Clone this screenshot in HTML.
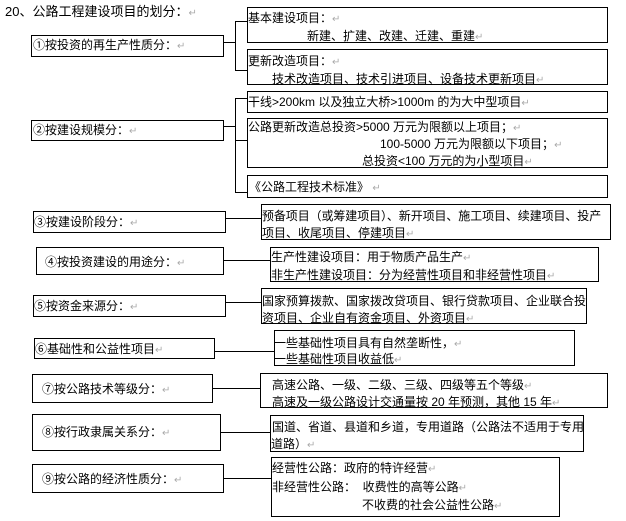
<!DOCTYPE html>
<html><head><meta charset="utf-8">
<style>
html,body{margin:0;padding:0;background:#fff;}
body{width:626px;height:521px;position:relative;overflow:hidden;font-family:"Liberation Sans","Noto Sans CJK SC","WenQuanYi Zen Hei",sans-serif;color:#000;}
.b{position:absolute;border:1px solid #000;box-sizing:border-box;}
.t{position:absolute;font-size:12px;line-height:16px;height:16px;white-space:nowrap;}
.h{position:absolute;background:#000;height:1px;}
.v{position:absolute;background:#000;width:1px;}
.r{color:#aaa;font-size:10px;font-family:"DejaVu Sans",sans-serif;}
</style></head><body>

<div class="t" style="left:5px;top:4px;font-size:13px;">20、公路工程建设项目的划分：<span class="r">↵</span></div>

<!-- left boxes -->
<div class="b" style="left:31px;top:35px;width:193px;height:22px;"></div>
<div class="t" style="left:33px;top:37px;">①按投资的再生产性质分：<span class="r">↵</span></div>

<div class="b" style="left:31px;top:120px;width:193px;height:21px;"></div>
<div class="t" style="left:33px;top:122px;">②按建设规模分：<span class="r">↵</span></div>

<div class="b" style="left:33px;top:211px;width:193px;height:22px;"></div>
<div class="t" style="left:34px;top:214px;">③按建设阶段分：<span class="r">↵</span></div>

<div class="b" style="left:36px;top:247px;width:188px;height:28px;"></div>
<div class="t" style="left:45px;top:254px;">④按投资建设的用途分：<span class="r">↵</span></div>

<div class="b" style="left:33px;top:295px;width:193px;height:22px;"></div>
<div class="t" style="left:34px;top:298px;">⑤按资金来源分：<span class="r">↵</span></div>

<div class="b" style="left:34px;top:338px;width:181px;height:21px;"></div>
<div class="t" style="left:35px;top:341px;">⑥基础性和公益性项目<span class="r">↵</span></div>

<div class="b" style="left:32px;top:374px;width:181px;height:29px;"></div>
<div class="t" style="left:42px;top:381px;">⑦按公路技术等级分：<span class="r">↵</span></div>

<div class="b" style="left:32px;top:414px;width:189px;height:37px;"></div>
<div class="t" style="left:42px;top:424px;">⑧按行政隶属关系分：<span class="r">↵</span></div>

<div class="b" style="left:32px;top:464px;width:192px;height:29px;"></div>
<div class="t" style="left:42px;top:471px;">⑨按公路的经济性质分：<span class="r">↵</span></div>

<!-- right boxes -->
<div class="b" style="left:247px;top:7px;width:361px;height:36px;"></div>
<div class="t" style="left:248px;top:10px;">基本建设项目：<span class="r">↵</span></div>
<div class="t" style="left:307px;top:28px;">新建、扩建、改建、迁建、重建<span class="r">↵</span></div>

<div class="b" style="left:247px;top:49px;width:361px;height:36px;"></div>
<div class="t" style="left:248px;top:53px;">更新改造项目：<span class="r">↵</span></div>
<div class="t" style="left:272px;top:71px;">技术改造项目、技术引进项目、设备技术更新项目<span class="r">↵</span></div>

<div class="b" style="left:247px;top:91px;width:361px;height:22px;"></div>
<div class="t" style="left:248px;top:94px;">干线&gt;200km 以及独立大桥&gt;1000m 的为大中型项目<span class="r">↵</span></div>

<div class="b" style="left:247px;top:118px;width:361px;height:50px;"></div>
<div class="t" style="left:248px;top:119px;">公路更新改造总投资&gt;5000 万元为限额以上项目；<span class="r">↵</span></div>
<div class="t" style="left:380px;top:136px;">100-5000 万元为限额以下项目；<span class="r">↵</span></div>
<div class="t" style="left:362px;top:153px;">总投资&lt;100 万元的为小型项目<span class="r">↵</span></div>

<div class="b" style="left:247px;top:175px;width:361px;height:23px;"></div>
<div class="t" style="left:249px;top:179px;">《公路工程技术标准》 <span class="r">↵</span></div>

<div class="b" style="left:261px;top:204px;width:350px;height:36px;"></div>
<div class="t" style="left:262px;top:208px;letter-spacing:-0.1px;">预备项目（或筹建项目）、新开项目、施工项目、续建项目、投产</div>
<div class="t" style="left:262px;top:225px;">项目、收尾项目、停建项目<span class="r">↵</span></div>

<div class="b" style="left:270px;top:247px;width:329px;height:35px;"></div>
<div class="t" style="left:271px;top:249px;">生产性建设项目：用于物质产品生产<span class="r">↵</span></div>
<div class="t" style="left:271px;top:267px;">非生产性建设项目：分为经营性项目和非经营性项目<span class="r">↵</span></div>

<div class="b" style="left:261px;top:288px;width:326px;height:36px;"></div>
<div class="t" style="left:262px;top:293px;">国家预算拨款、国家拨改贷项目、银行贷款项目、企业联合投</div>
<div class="t" style="left:262px;top:310px;">资项目、企业自有资金项目、外资项目<span class="r">↵</span></div>

<div class="b" style="left:274px;top:330px;width:301px;height:36px;"></div>
<div class="t" style="left:274px;top:335px;">一些基础性项目具有自然垄断性，<span class="r">↵</span></div>
<div class="t" style="left:274px;top:351px;">一些基础性项目收益低<span class="r">↵</span></div>

<div class="b" style="left:260px;top:373px;width:348px;height:35px;"></div>
<div class="t" style="left:272px;top:377px;">高速公路、一级、二级、三级、四级等五个等级<span class="r">↵</span></div>
<div class="t" style="left:272px;top:394px;">高速及一级公路设计交通量按 20 年预测，其他 15 年<span class="r">↵</span></div>

<div class="b" style="left:270px;top:415px;width:314px;height:37px;"></div>
<div class="t" style="left:272px;top:419px;">国道、省道、县道和乡道，专用道路（公路法不适用于专用</div>
<div class="t" style="left:271px;top:436px;">道路）<span class="r">↵</span></div>

<div class="b" style="left:271px;top:457px;width:289px;height:60px;"></div>
<div class="t" style="left:272px;top:460px;">经营性公路：政府的特许经营<span class="r">↵</span></div>
<div class="t" style="left:272px;top:479px;">非经营性公路：&nbsp; 收费性的高等公路<span class="r">↵</span></div>
<div class="t" style="left:362px;top:497px;">不收费的社会公益性公路<span class="r">↵</span></div>

<!-- connectors -->
<div class="h" style="left:223px;top:42px;width:13px;"></div>
<div class="v" style="left:235px;top:21px;height:50px;"></div>
<div class="h" style="left:235px;top:21px;width:12px;"></div>
<div class="h" style="left:235px;top:70px;width:12px;"></div>

<div class="h" style="left:223px;top:126px;width:13px;"></div>
<div class="v" style="left:235px;top:98px;height:95px;"></div>
<div class="h" style="left:235px;top:98px;width:12px;"></div>
<div class="h" style="left:235px;top:140px;width:12px;"></div>
<div class="h" style="left:235px;top:192px;width:12px;"></div>

<div class="h" style="left:225px;top:218px;width:36px;"></div>
<div class="h" style="left:223px;top:260px;width:47px;"></div>
<div class="h" style="left:225px;top:302px;width:36px;"></div>
<div class="h" style="left:214px;top:351px;width:60px;"></div>
<div class="h" style="left:212px;top:388px;width:48px;"></div>
<div class="h" style="left:220px;top:432px;width:50px;"></div>
<div class="h" style="left:223px;top:478px;width:48px;"></div>

</body></html>
